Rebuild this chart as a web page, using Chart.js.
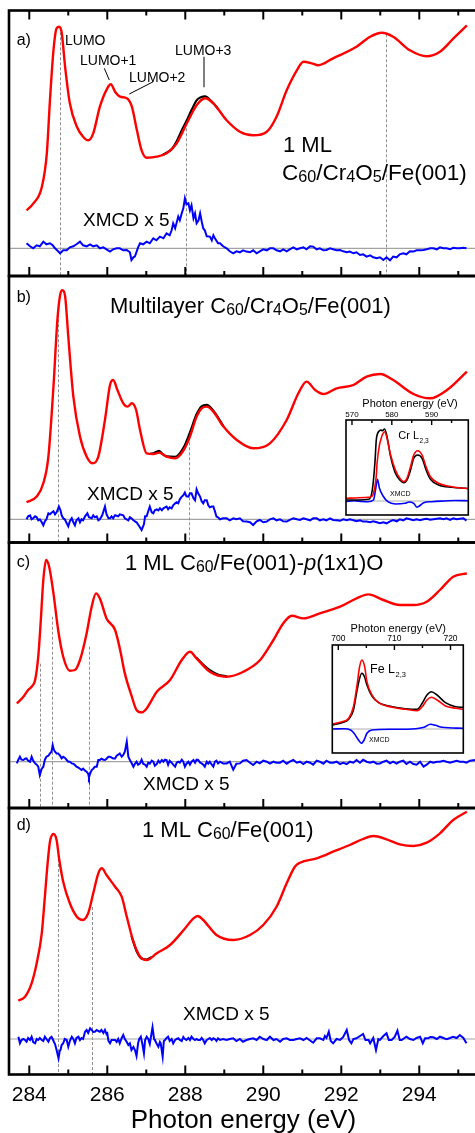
<!DOCTYPE html>
<html><head><meta charset="utf-8">
<script src="https://cdn.jsdelivr.net/npm/chart.js@4.4.1/dist/chart.umd.min.js"></script>
<style>
html,body{margin:0;padding:0;background:#fff;overflow:hidden;width:475px;height:1133px;position:relative;}
canvas{position:absolute;}
</style></head><body>
<canvas id="pa" width="490" height="282" style="left:0;top:0"></canvas>
<canvas id="pb" width="490" height="280" style="left:0;top:270px"></canvas>
<canvas id="pc" width="490" height="280" style="left:0;top:536px"></canvas>
<canvas id="pd" width="490" height="360" style="left:0;top:802px"></canvas>
<canvas id="icr" width="135" height="130" style="left:340px;top:390px"></canvas>
<canvas id="ife" width="150" height="145" style="left:325px;top:615px"></canvas>
<script>
// ---------------- DATA ----------------
const energyTickValues = [284,285,286,287,288,289,290,291,292,293,294,295];
const energyLabelValues = [284,286,288,290,292,294];

// Panel a) 1 ML C60/Cr4O5/Fe(001)
const aRedE = [283.93,284.10,284.32,284.45,284.53,284.62,284.70,284.77,284.83,284.92,285.04,285.22,285.38,285.51,285.64,285.81,286.00,286.09,286.20,286.33,286.50,286.63,286.76,286.88,287.01,287.27,287.52,287.78,288.04,288.29,288.51,288.72,289.06,289.40,289.74,290.09,290.34,290.60,290.86,291.03,291.24,291.41,291.79,292.39,292.74,293.04,293.33,293.76,294.19,294.53,294.87,295.22];
const aRedV = [38,44.7,61,95,148,198,220,221.6,216,181,145,121.6,111.6,108,115,141.6,160,164,156.6,151.6,150,141.6,118,98,90.6,91.6,95,105,125,143,150,145,128,116.6,113,116.6,131.6,158,178,186.6,185,183,190,201.6,211.6,215.6,211.6,198,192,196.6,209.6,223];
const aBlackE = [287.40,287.52,287.65,287.78,287.91,288.04,288.17,288.29,288.40,288.51,288.62,288.72,288.85];
const aBlackV = [93,95.5,99,107,118,128,139,148,151,152,149,145,139];
const aXmcdE = [283.93,284.02,284.10,284.19,284.27,284.36,284.44,284.53,284.60,284.66,
 284.74,284.79,284.87,284.96,285.04,285.13,285.21,285.30,285.38,285.47,
 285.56,285.64,285.73,285.81,285.90,285.98,286.07,286.15,286.24,286.32,
 286.41,286.50,286.58,286.62,286.67,286.71,286.79,286.84,286.92,287.01,
 287.09,287.18,287.26,287.35,287.44,287.52,287.60,287.65,287.69,287.74,
 287.82,287.86,287.91,287.95,287.99,288.03,288.08,288.12,288.16,288.21,
 288.25,288.29,288.34,288.38,288.42,288.46,288.50,288.55,288.63,288.68,
 288.72,288.76,288.84,288.89,288.97,289.06,289.14,289.23,289.31,289.40,
 289.48,289.57,289.66,289.74,289.83,289.91,290.00,290.09,290.17,290.26,
 290.34,290.43,290.51,290.60,290.68,290.77,290.86,290.94,291.03,291.11,
 291.20,291.28,291.37,291.45,291.54,291.62,291.71,291.79,291.88,291.97,
 292.05,292.14,292.22,292.31,292.39,292.48,292.56,292.65,292.74,292.82,
 292.91,292.99,293.08,293.16,293.25,293.33,293.42,293.50,293.59,293.67,
 293.76,293.85,293.93,294.02,294.11,294.19,294.28,294.36,294.45,294.53,
 294.62,294.70,294.79,294.87,294.96,295.04,295.13,295.21];
const aXmcdV = [5,2,0,3,2,6.7,4,5,3,0,
 -3,-5,-2,-2,1,2,4,6.7,3,2,
 4,2,3,0,1,-1,-3.3,-1,0,0,
 -2,-1.7,-4,-11.7,-9,-8,1,5,4,6.7,
 5,10,8,11.7,10,15,13,18,25,20,
 31.7,28,35,40,50,44,45,38,43,30,
 35,25,28,35,27,20,18,12,11.7,8,
 13,10,5,5,2,0,-3,-5,-3,-4,
 -2,-3.3,-4,-2,-5,-3,-1,-2,0,0,
 -2,-3,-1,-3,-1,1,-1,0,1,-1,
 2,1.7,-1,0,-2,-1.7,0,-1,-2,-1.7,
 -3,-4,-3.3,-5,-4,-6.7,-6,-8.3,-7,-9,
 -10,-9,-11.7,-9,-12,-8.3,-9,-6,-5,-6,
 -3,-3.3,-2,-2,-1.7,-1,0,0,-1,1,
 0,0,-1,0.5,0,0,0.5,0];
const aMarkE = [284.80,288.01,293.14];
const aMarkTop = [216,120,214];

// Panel b) Multilayer C60/Cr4O5/Fe(001)
const bRedE = [283.93,284.19,284.36,284.49,284.62,284.72,284.79,284.85,284.92,285.00,285.13,285.30,285.47,285.62,285.77,285.94,286.07,286.15,286.26,286.41,286.52,286.63,286.74,286.84,287.01,287.18,287.33,287.52,287.74,287.96,288.12,288.29,288.42,288.55,288.72,288.98,289.32,289.74,290.17,290.60,290.90,291.11,291.33,291.54,291.88,292.31,292.65,293.00,293.33,293.85,294.28,294.71,295.22];
const bRedV = [17,22.7,36,62.7,132.7,199,224,229,222.7,182.7,122.7,82.7,62.7,56,62.7,99.3,134.3,139.3,129.3,116,112.7,116,109.3,89.3,66,65.3,66.7,62.7,61,69.3,82.7,102.7,111,112.7,107.7,92.7,79.3,71,76,99.3,126,137.7,129.3,125.3,131,134.3,142.7,145.3,139.3,125.3,121,129.3,147.7];
const bBlackE = [287.10,287.18,287.26,287.33,287.40,287.52,287.74,287.96,288.12,288.29,288.42,288.55,288.72,288.98];
const bBlackV = [65.5,66,67.5,68.5,66,63,62.5,72,87,105,113,114.5,108.5,93];
const bXmcdE = [283.93,283.97,284.02,284.06,284.10,284.15,284.19,284.23,284.27,284.32,
 284.36,284.40,284.44,284.49,284.53,284.57,284.62,284.66,284.70,284.76,
 284.80,284.83,284.87,284.91,284.96,285.00,285.04,285.09,285.13,285.17,
 285.21,285.26,285.30,285.34,285.38,285.43,285.49,285.53,285.60,285.64,
 285.68,285.73,285.77,285.81,285.87,285.94,285.98,286.03,286.07,286.11,
 286.15,286.20,286.28,286.32,286.41,286.45,286.54,286.58,286.62,286.67,
 286.71,286.75,286.82,286.88,286.94,286.97,287.01,287.05,287.09,287.14,
 287.18,287.22,287.27,287.31,287.35,287.40,287.44,287.48,287.52,287.56,
 287.60,287.65,287.69,287.74,287.78,287.82,287.86,287.91,287.95,287.99,
 288.03,288.08,288.12,288.16,288.21,288.25,288.29,288.33,288.38,288.42,
 288.46,288.50,288.55,288.59,288.63,288.68,288.72,288.76,288.80,288.84,
 288.89,288.97,289.06,289.14,289.23,289.31,289.40,289.48,289.57,289.66,
 289.74,289.83,289.91,290.00,290.09,290.17,290.26,290.34,290.43,290.51,
 290.60,290.68,290.77,290.86,290.94,291.03,291.11,291.20,291.28,291.37,
 291.45,291.54,291.62,291.71,291.79,291.88,291.97,292.05,292.14,292.22,
 292.31,292.39,292.48,292.56,292.65,292.74,292.82,292.91,292.99,293.08,
 293.16,293.25,293.33,293.42,293.50,293.59,293.67,293.76,293.85,293.93,
 294.02,294.11,294.19,294.28,294.36,294.45,294.53,294.62,294.70,294.79,
 294.87,294.96,295.04,295.13,295.21];
const bXmcdV = [0,3,4,0,1,3,2,-1,0,-3,
 -6,-2,0,6,5,6.5,8,5,7,12.7,
 9,4,1,0,-4,-7,-2,1,-3,-6,
 -1,1,-3,0,-1,3,6,2,1,4,
 2,3,-1,0,4,12.7,5,1,1,3,
 1,4,3,5,4,1,-1,2,1,-1,
 -2,-3,-7,-10.7,-5,3,3,8,12.7,7,
 6,9,10,9,11,9,11,12,12.7,10,
 12,11,14,16,17,16,20,22.7,24,26.7,
 23,22.7,26,26,21,19,30,26,22.7,18,
 16,19,19,14,12,12.7,12.7,8,2.7,2,
 0,1,1,-1,1,0,1,-2,-2.3,-3,
 -5.7,-2,-0.7,-3,-2.3,0,1,-1,0,-2,
 -2.3,-0.5,1,0,-0.7,1,0,-1,1,1,
 -1,0,-1,1,-0.7,-1,-1.5,0,-1,0,
 -1,-2,-1,-2.3,-2.3,-3,-2,-3,-4,-3,
 -4,-2,-0.7,-2,0,-1,1,0,-1,0,
 -1,0,0.5,-0.5,0,0.5,1,0,1,-0.5,
 1,0,0.5,1,-1.3];
const bMarkE = [284.74,288.10];
const bMarkTop = [205,82];

// Panel c) 1 ML C60/Fe(001)-p(1x1)O
const cRedE = [283.68,283.85,283.97,284.06,284.15,284.23,284.29,284.36,284.43,284.51,284.62,284.74,284.87,285.04,285.17,285.30,285.47,285.60,285.71,285.81,285.98,286.20,286.33,286.45,286.63,286.75,286.88,287.01,287.27,287.61,287.91,288.12,288.29,288.63,289.06,289.49,289.92,290.26,290.51,290.73,291.03,291.45,291.97,292.39,292.69,293.08,293.50,293.85,294.19,294.53,294.87,295.22];
const cRedV = [58.3,65,71.7,75,81.7,105,138,181.7,201.7,195,168.3,131.7,105,91,91.7,101.7,128.3,155,168.3,163.3,143.3,131.7,111.7,88.3,65,51.7,49.3,53.3,70,81.7,101.7,110,103.3,90,85,90,101.7,121.7,138.3,146,143.3,148.3,155,163.3,167.3,161.7,156.7,156.7,160,171.7,185,188.3];
const cBlackE = [288.29,288.45,288.63,288.85,289.06];
const cBlackV = [104,97.5,91.5,87,85.5];
const cXmcdE = [283.68,283.72,283.76,283.80,283.85,283.89,283.93,283.97,284.02,284.06,
 284.10,284.15,284.19,284.23,284.27,284.32,284.36,284.40,284.44,284.49,
 284.53,284.57,284.60,284.63,284.66,284.70,284.74,284.79,284.83,284.87,
 284.91,284.96,285.00,285.04,285.09,285.13,285.17,285.21,285.26,285.30,
 285.34,285.38,285.43,285.47,285.51,285.53,285.56,285.60,285.64,285.68,
 285.73,285.77,285.81,285.85,285.90,285.94,285.98,286.03,286.07,286.11,
 286.15,286.20,286.24,286.28,286.32,286.37,286.41,286.45,286.50,286.54,
 286.58,286.62,286.67,286.71,286.75,286.79,286.84,286.88,286.92,286.97,
 287.01,287.05,287.09,287.14,287.18,287.22,287.27,287.31,287.35,287.40,
 287.44,287.48,287.52,287.56,287.60,287.65,287.69,287.74,287.78,287.82,
 287.86,287.91,287.95,287.99,288.03,288.08,288.12,288.16,288.21,288.25,
 288.29,288.33,288.38,288.42,288.46,288.50,288.55,288.59,288.63,288.68,
 288.72,288.76,288.80,288.84,288.89,288.97,289.06,289.14,289.23,289.31,
 289.40,289.48,289.57,289.66,289.74,289.83,289.91,290.00,290.09,290.17,
 290.26,290.34,290.43,290.51,290.60,290.68,290.77,290.86,290.94,291.03,
 291.11,291.20,291.28,291.37,291.45,291.54,291.62,291.71,291.79,291.88,
 291.97,292.05,292.14,292.22,292.31,292.39,292.48,292.56,292.65,292.74,
 292.82,292.91,292.99,293.08,293.16,293.25,293.33,293.42,293.50,293.59,
 293.67,293.76,293.85,293.93,294.02,294.11,294.19,294.28,294.36,294.45,
 294.53,294.62,294.70,294.79,294.87,294.96,295.04,295.13,295.21,295.30,295.43];
const cXmcdV = [-1.7,2,5,2,1.7,3,3.3,1,0,5,
 1,-1.7,-3,-5,-13.3,-7,-5,2,5,6,
 8.3,10,16.7,12,10,8.3,8.3,6,3.3,5,
 4,1.7,0,0,-1.7,-2,-3.3,-5,-6,-7,
 -8.3,-7,-9,-10,-12,-15.7,-12,-8.3,-7,-5,
 -5,1.7,1.7,3,2,1.7,3,5,5,4,
 3.3,3.3,6,7,8.3,5,6.7,10,20,5,
 1.7,-1,-5,-2,0,-3,-1.7,2,-2,-3,
 -5,-1,-2,1,0,-4,-2.3,1,-1,1.7,
 0,2,1.7,-3,1,-1,-3,-5,-1,0,
 -1,2,0,-5,-2,0,-3,0,1.7,-1,
 2,1.7,-1,-1.7,-3,-5,0,-2,0,-3,
 -5,0,1,-1.7,0,-1.7,-1.7,0,-8,-2,
 -1.7,1,1.7,-1,-3.3,0,-1.7,1,0,-2,
 0,-1,-1,1,-2,0,1.7,-1,0,-2.3,
 0,-1,-3,1,0,-2,1,-1,-1,0,
 -2.3,-1,-2.3,0,-1,1.7,-1,2,0,-1,
 0,-2,-1.7,0,1,-1.7,0,-2,0,1,
 -2.3,0,-2.3,-3,0,-5,-3,0,-1,0,
 0,1,0,-1,0,1,0,0,-1,1,1.7];
const cMarkE = [284.27,284.59,285.53];
const cMarkTop = [98,145,115];

// Panel d) 1 ML C60/Fe(001)
const dRedE = [283.72,283.89,284.06,284.19,284.32,284.40,284.47,284.53,284.62,284.70,284.77,284.87,285.04,285.22,285.37,285.51,285.64,285.77,285.86,285.98,286.20,286.37,286.50,286.67,286.84,287.01,287.27,287.61,287.96,288.21,288.32,288.46,288.80,289.23,289.66,290.00,290.34,290.60,290.81,290.94,291.37,291.79,292.22,292.56,292.82,293.16,293.50,293.85,294.19,294.53,294.87,295.22];
const dRedV = [38.3,42.3,55.7,75.7,105.7,142.3,175.7,197.3,205,199,179,157.3,135.7,122.3,119,125.7,145.7,165.7,170.7,164,152.3,142.3,122.3,97.3,82.3,79,85.7,94,109,120.7,123,119,104,99,104,114,132.3,155.7,172.3,176.3,180.7,187.3,194,200,203,199.7,194.7,193,196.3,205.7,219,227.3];
const dBlackE = [286.62,286.75,286.88,287.01,287.14];
const dBlackV = [103,88,80.5,79.5,82];
const dXmcdE = [283.72,283.76,283.80,283.85,283.89,283.93,283.97,284.02,284.06,284.10,
 284.15,284.19,284.23,284.27,284.32,284.36,284.40,284.44,284.49,284.53,
 284.57,284.60,284.63,284.66,284.70,284.75,284.78,284.80,284.83,284.87,
 284.91,284.96,285.00,285.04,285.09,285.13,285.17,285.21,285.26,285.30,
 285.34,285.38,285.43,285.47,285.51,285.56,285.60,285.64,285.68,285.73,
 285.77,285.81,285.85,285.90,285.94,285.98,286.00,286.03,286.07,286.11,
 286.15,286.20,286.24,286.28,286.32,286.37,286.41,286.45,286.50,286.54,
 286.58,286.62,286.67,286.71,286.75,286.79,286.82,286.86,286.90,286.94,
 286.97,287.01,287.05,287.09,287.14,287.16,287.20,287.22,287.27,287.31,
 287.35,287.37,287.42,287.45,287.48,287.52,287.56,287.60,287.65,287.69,
 287.74,287.78,287.82,287.86,287.91,287.95,287.99,288.03,288.08,288.12,
 288.16,288.21,288.25,288.29,288.33,288.38,288.42,288.46,288.50,288.55,
 288.59,288.63,288.68,288.72,288.76,288.80,288.84,288.89,288.97,289.06,
 289.14,289.23,289.31,289.40,289.48,289.57,289.66,289.74,289.83,289.91,
 290.00,290.09,290.17,290.26,290.34,290.43,290.51,290.60,290.68,290.77,
 290.86,290.94,291.03,291.11,291.20,291.28,291.37,291.45,291.54,291.58,
 291.62,291.68,291.73,291.79,291.88,291.97,292.05,292.14,292.20,292.26,
 292.31,292.39,292.48,292.56,292.62,292.70,292.74,292.82,292.89,292.95,
 292.99,293.08,293.16,293.22,293.29,293.37,293.44,293.50,293.55,293.62,
 293.67,293.76,293.85,293.93,294.02,294.09,294.15,294.23,294.28,294.36,
 294.45,294.53,294.62,294.70,294.79,294.87,294.96,295.04,295.13,295.21];
const dXmcdV = [2.3,-4.3,-1,0,-1,-2.7,1,-1,2.3,-3,
 -4.3,0,-1,1,-1,-2,2.3,0,-2.7,1,
 2.3,0,-2.7,-5,-11,-19.3,-12,-11,-6,-4.3,
 0,-1,-7.7,-2,2.3,0,-4.3,1,2.3,-1,
 1,0,7.3,9,6,10.7,9,7,7.3,9,
 8,7.3,9,6,9,5,5.7,-2,-4.3,-1,
 -1,-1,-3,0,-4.3,1,4,0,-3,-6,
 -4.3,-11,-8,-11,-17,-4.3,0,2.3,-5,-14.3,
 -1,2.3,0,-5,7,11.7,0,-1,-5,-7.7,
 -3,-4.3,-17.7,-2,-1,1,2.3,-2,0,-4.3,
 -1,0,0.7,-1,-2,2,0,-1,1,-1,
 2.3,0,-1,0,-1,-1,1,-1,-4.3,-1,
 0,1,-1,0.7,0,-2,0.7,-1,0,-1,
 0,0.7,-2,0,-2.7,-1,0,0.7,-1,2.3,
 0,-1,2.3,-1,0,-2.7,0,0.7,-1,-1,
 0,0.7,-1,1,-1.5,-3.7,0.7,0.7,-1,3,
 1,7.3,-2,-4.3,0,-1,2,9,-1,-4.3,
 0,0.7,3,5,-1,-1,-4.3,1,-11,0,
 -1,3,5.7,-1,-1,2,8.3,-1,-1,1,
 2.3,0,-1,1,2.3,-4.3,0.7,0.7,2,1.7,
 0,2.3,1,-0.3,1,2.3,1,4,1,-4.3];
const dMarkE = [284.74,285.62];
const dMarkTop = [180,132];

// Inset: Cr L2,3
const crTickValues = [570,575,580,585,590,595];
const crLabelValues = [570,580,590];
const crE = [568.4,571.75,574.25,575.1,575.75,576.1,576.3,576.9,577.3,577.6,578.2,578.8,579.7,580.9,582.2,583.0,583.8,584.7,585.5,586.5,587.6,588.6,589.7,591.75,595.1,598.4,599.2];
const crRed = [2.7,3.3,3.7,5,14.3,25,37.7,56,62,66,69.3,62.7,46,31,21.7,19.3,22.7,34.3,46,50.3,46,34.3,24.3,17.7,14.3,12.7,12.5];
const crBlack = [1,1,1.7,11,37.7,61,66,70.3,71,70.3,72,64.3,44.3,27.7,20.3,18.3,21,31,42.7,46,42.7,31,21.7,16,13.7,12.7,12.5];
const crXmcdE = [568.4,570.5,572.5,574.0,575.4,575.9,576.4,576.9,577.8,579.0,580.9,583.3,584.3,585.5,586.3,586.9,588.0,590.0,593.3,596.0,599.2];
const crXmcdV = [-0.7,0.3,-0.5,-0.7,1,11,21.7,12.7,5,-0.7,-3,-2.3,-1,-2.3,-6.3,-5,-1.7,-0.7,0,0.5,0.3];

// Inset: Fe L2,3
const feTickValues = [700,705,710,715,720];
const feLabelValues = [700,710,720];
const feE = [698.98,700.65,701.85,702.7,703.3,703.8,704.2,704.7,705.1,706.0,707.2,709.6,712.0,714.05,714.95,715.8,716.6,717.6,719.1,720.9,722.28];
const feRed = [5,7.3,10.7,22.3,42.3,62.3,69,62.3,47.3,34,26.3,21.7,19.7,18.3,22.3,29,31.7,29,23,20.7,19.7];
const feBlack = [4,6.3,9.7,19,37.3,50.7,55.7,51.7,44,33,26.3,22.3,20.3,19.7,25.7,34,37.3,34,26.3,22.3,21.7];
const feXmcdE = [698.98,701.0,702.2,702.8,703.6,704.1,704.6,705.1,706.0,709.6,713.8,715.3,716.4,717.3,718.5,722.28];
const feXmcdV = [0,0.3,-1,-4.3,-11,-14.3,-11,-4.3,-1,-0.3,0.3,1.7,4.7,3.7,1.7,0.7];

// ---------------- RENDERING ----------------
const FONT = "'Liberation Sans', Arial, Helvetica, sans-serif";
const CANVAS_W = 490;
const X_MIN = 283.48, X_MAX = 295.5, PX_PER_EV = 39;

function pts(E, V) { return E.map((e, i) => ({x: e, y: V[i]})); }

function richWidth(ctx, size, runs) {
  let w = 0;
  for (const [t, k] of runs) {
    const fs = k === 's' ? size * 0.72 : size;
    ctx.font = (k === 'i' ? 'italic ' : '') + fs + 'px ' + FONT;
    w += ctx.measureText(t).width;
  }
  return w;
}
function drawRich(ctx, x, y, size, runs, align) {
  let cx = x;
  if (align === 'center') cx = x - richWidth(ctx, size, runs) / 2;
  ctx.textAlign = 'left';
  ctx.textBaseline = 'alphabetic';
  for (const [t, k] of runs) {
    let fs = size, dy = 0, st = '';
    if (k === 's') { fs = size * 0.72; dy = size * 0.1; }
    if (k === 'i') st = 'italic ';
    ctx.font = st + fs + 'px ' + FONT;
    ctx.fillText(t, cx, y + dy);
    cx += ctx.measureText(t).width;
  }
}

function mainPanel(c) {
  const el = document.getElementById(c.id);
  const datasets = [
    {data: pts(c.redE, c.redV), borderColor: '#ff0000', borderWidth: 2.4, pointRadius: 0, cubicInterpolationMode: 'monotone', order: 0},
    {data: pts(c.xE, c.xV), borderColor: '#0000ff', borderWidth: 2, pointRadius: 0, tension: 0, order: 2}
  ];
  if (c.blackE) datasets.push({data: pts(c.blackE, c.blackV), borderColor: '#000', borderWidth: 2.2, pointRadius: 0, cubicInterpolationMode: 'monotone', order: 1});
  const decor = {
    id: 'decor_' + c.id,
    beforeDatasetsDraw(chart) {
      const {ctx, chartArea: a, scales: {x, y}} = chart;
      ctx.save();
      const y0 = y.getPixelForValue(0);
      ctx.strokeStyle = '#a3a3a3'; ctx.lineWidth = 1.2;
      ctx.beginPath(); ctx.moveTo(a.left, y0); ctx.lineTo(a.right, y0); ctx.stroke();
      ctx.strokeStyle = '#8f8f8f'; ctx.lineWidth = 1; ctx.setLineDash([3, 2]);
      c.markE.forEach((e, i) => {
        const px = Math.round(x.getPixelForValue(e)) + 0.5;
        ctx.beginPath(); ctx.moveTo(px, y.getPixelForValue(c.markTop[i])); ctx.lineTo(px, a.bottom); ctx.stroke();
      });
      ctx.restore();
    },
    afterDraw(chart) {
      const {ctx, chartArea: a, scales: {x}} = chart;
      ctx.save();
      ctx.strokeStyle = '#000'; ctx.lineWidth = 2.6;
      ctx.strokeRect(a.left, a.top, a.right - a.left, a.bottom - a.top);
      ctx.lineWidth = 2;
      energyTickValues.forEach(v => {
        const px = x.getPixelForValue(v);
        const len = v % 2 === 0 ? 9 : 5;
        ctx.beginPath(); ctx.moveTo(px, a.bottom); ctx.lineTo(px, a.bottom - len); ctx.stroke();
        if (c.topTicks) { ctx.beginPath(); ctx.moveTo(px, a.top); ctx.lineTo(px, a.top + len); ctx.stroke(); }
      });
      ctx.lineWidth = 1;
      (c.leaders || []).forEach(([x1, y1, x2, y2]) => {
        ctx.beginPath(); ctx.moveTo(x1, y1 - c.top); ctx.lineTo(x2, y2 - c.top); ctx.stroke();
      });
      ctx.fillStyle = '#000';
      c.texts.forEach(t => drawRich(ctx, t.x, t.y - c.top, t.size, t.runs, t.align));
      ctx.restore();
    }
  };
  const xScale = c.axis ? {
    type: 'linear', min: X_MIN, max: X_MAX, position: 'bottom',
    afterBuildTicks: s => { s.ticks = energyLabelValues.map(v => ({value: v})); },
    grid: {display: false, drawTicks: false}, border: {display: false},
    ticks: {color: '#000', font: {family: FONT, size: 21, lineHeight: 1}, padding: 10, maxRotation: 0, autoSkip: false, callback: v => String(v)},
    title: {display: true, text: 'Photon energy (eV)', color: '#000', font: {family: FONT, size: 26, lineHeight: 1}, padding: {top: -7.5, bottom: 0}}
  } : {type: 'linear', min: X_MIN, max: X_MAX, display: false};
  new Chart(el, {
    type: 'line',
    data: {datasets},
    options: {
      responsive: false, animation: false, events: [],
      layout: {padding: {left: 9, right: CANVAS_W - 9 - PX_PER_EV * (X_MAX - X_MIN), top: c.padTop, bottom: c.padBottom}},
      plugins: {legend: {display: false}, tooltip: {enabled: false}},
      scales: {x: xScale, y: {type: 'linear', min: c.yMin, max: c.yMax, display: false}}
    },
    plugins: [decor]
  });
}

function insetChart(c) {
  const el = document.getElementById(c.id);
  const decor = {
    id: 'inset_' + c.id,
    beforeDraw(chart) {
      const {ctx, chartArea: a} = chart;
      ctx.save(); ctx.fillStyle = '#fff';
      ctx.fillRect(a.left, a.top, a.right - a.left, a.bottom - a.top);
      ctx.restore();
    },
    beforeDatasetsDraw(chart) {
      const {ctx, chartArea: a, scales: {y}} = chart;
      const y0 = y.getPixelForValue(0);
      ctx.save(); ctx.strokeStyle = '#b0b0b0'; ctx.lineWidth = 1;
      ctx.beginPath(); ctx.moveTo(a.left, y0); ctx.lineTo(a.right, y0); ctx.stroke();
      ctx.restore();
    },
    afterDraw(chart) {
      const {ctx, chartArea: a, scales: {x}} = chart;
      ctx.save();
      ctx.strokeStyle = '#000'; ctx.lineWidth = 1.6;
      ctx.strokeRect(a.left, a.top, a.right - a.left, a.bottom - a.top);
      ctx.lineWidth = 1.4;
      c.tickValues.forEach(v => {
        const px = x.getPixelForValue(v);
        const len = c.labelValues.includes(v) ? 5 : 3;
        ctx.beginPath(); ctx.moveTo(px, a.top); ctx.lineTo(px, a.top + len); ctx.stroke();
      });
      ctx.fillStyle = '#000';
      ctx.font = c.tickFont + 'px ' + FONT; ctx.textAlign = 'center'; ctx.textBaseline = 'alphabetic';
      c.labelValues.forEach(v => ctx.fillText(String(v), x.getPixelForValue(v), c.tickY - c.top));
      drawRich(ctx, c.titleX - c.left, c.titleY - c.top, 11, [['Photon energy (eV)', 'n']], 'center');
      c.texts.forEach(t => {
        let cx = t.x - c.left;
        ctx.font = t.size + 'px ' + FONT; ctx.textAlign = 'left';
        ctx.fillText(t.main, cx, t.y - c.top);
        if (t.sub) {
          cx += ctx.measureText(t.main).width + 0.5;
          ctx.font = (t.size * 0.6) + 'px ' + FONT;
          ctx.fillText(t.sub, cx, t.y - c.top + t.size * 0.3);
        }
      });
      ctx.restore();
    }
  };
  new Chart(el, {
    type: 'line',
    data: {datasets: [
      {data: pts(c.E, c.red), borderColor: '#ff0000', borderWidth: 1.6, pointRadius: 0, cubicInterpolationMode: 'monotone', order: 0},
      {data: pts(c.E, c.black), borderColor: '#000', borderWidth: 1.6, pointRadius: 0, cubicInterpolationMode: 'monotone', order: 1},
      {data: pts(c.xE, c.xV), borderColor: '#0000ff', borderWidth: 1.6, pointRadius: 0, cubicInterpolationMode: 'monotone', order: 2}
    ]},
    options: {
      responsive: false, animation: false, events: [],
      layout: {padding: c.pad},
      plugins: {legend: {display: false}, tooltip: {enabled: false}},
      scales: {
        x: {type: 'linear', min: c.xMin, max: c.xMax, display: false},
        y: {type: 'linear', min: c.yMin, max: c.yMax, display: false}
      }
    },
    plugins: [decor]
  });
}

const SUBST_CR = [['C','n'],['60','s'],['/Cr','n'],['4','s'],['O','n'],['5','s'],['/Fe(001)','n']];

mainPanel({
  id: 'pa', top: 0, padTop: 10.5, padBottom: 6, yMin: -27.7, yMax: 237.8, topTicks: true,
  redE: aRedE, redV: aRedV, blackE: aBlackE, blackV: aBlackV, xE: aXmcdE, xV: aXmcdV,
  markE: aMarkE, markTop: aMarkTop,
  leaders: [[104.3, 68.3, 109.3, 80], [129.3, 94, 153.3, 81.7], [204, 56.7, 204, 87.3]],
  texts: [
    {x: 16.7, y: 45, size: 16, runs: [['a)', 'n']]},
    {x: 65, y: 45, size: 14, runs: [['LUMO', 'n']]},
    {x: 80, y: 65, size: 14, runs: [['LUMO+1', 'n']]},
    {x: 129, y: 81.5, size: 14, runs: [['LUMO+2', 'n']]},
    {x: 175, y: 55, size: 14, runs: [['LUMO+3', 'n']]},
    {x: 283, y: 151.5, size: 22, runs: [['1 ML', 'n']]},
    {x: 282, y: 180, size: 22.5, runs: SUBST_CR},
    {x: 83, y: 225.5, size: 19, runs: [['XMCD x 5', 'n']]}
  ]
});
mainPanel({
  id: 'pb', top: 270, padTop: 6, padBottom: 7.5, yMin: -23.2, yMax: 243.3,
  redE: bRedE, redV: bRedV, blackE: bBlackE, blackV: bBlackV, xE: bXmcdE, xV: bXmcdV,
  markE: bMarkE, markTop: bMarkTop,
  texts: [
    {x: 16.7, y: 302, size: 16, runs: [['b)', 'n']]},
    {x: 110, y: 312.5, size: 22, runs: [['Multilayer ', 'n']].concat(SUBST_CR)},
    {x: 87, y: 500, size: 19, runs: [['XMCD x 5', 'n']]}
  ]
});
mainPanel({
  id: 'pc', top: 536, padTop: 6.5, padBottom: 8, yMin: -46.3, yMax: 219.2,
  redE: cRedE, redV: cRedV, blackE: cBlackE, blackV: cBlackV, xE: cXmcdE, xV: cXmcdV,
  markE: cMarkE, markTop: cMarkTop,
  texts: [
    {x: 16.7, y: 567, size: 16, runs: [['c)', 'n']]},
    {x: 125, y: 570, size: 22, runs: [['1 ML C', 'n'], ['60', 's'], ['/Fe(001)-', 'n'], ['p', 'i'], ['(1x1)O', 'n']]},
    {x: 143, y: 790, size: 19, runs: [['XMCD x 5', 'n']]}
  ]
});
mainPanel({
  id: 'pd', top: 802, padTop: 6, padBottom: 28, yMin: -35.5, yMax: 231, axis: true,
  redE: dRedE, redV: dRedV, blackE: dBlackE, blackV: dBlackV, xE: dXmcdE, xV: dXmcdV,
  markE: dMarkE, markTop: dMarkTop,
  texts: [
    {x: 16.7, y: 830, size: 16, runs: [['d)', 'n']]},
    {x: 142, y: 836.5, size: 22, runs: [['1 ML C', 'n'], ['60', 's'], ['/Fe(001)', 'n']]},
    {x: 183, y: 1019.5, size: 19, runs: [['XMCD x 5', 'n']]}
  ]
});

insetChart({
  id: 'icr', left: 340, top: 390, pad: {left: 6, right: 6.7, top: 30, bottom: 5},
  xMin: 568.5, xMax: 599.2, yMin: -14, yMax: 81,
  E: crE, red: crRed, black: crBlack, xE: crXmcdE, xV: crXmcdV,
  tickValues: crTickValues, labelValues: crLabelValues, tickFont: 8, tickY: 417,
  titleX: 410, titleY: 407,
  texts: [
    {x: 398.3, y: 439.3, size: 11, main: 'Cr L', sub: '2,3'},
    {x: 390, y: 496, size: 7, main: 'XMCD'}
  ]
});
insetChart({
  id: 'ife', left: 325, top: 615, pad: {left: 7.3, right: 11.7, top: 30, bottom: 7},
  xMin: 698.93, xMax: 722.28, yMin: -24, yMax: 84,
  E: feE, red: feRed, black: feBlack, xE: feXmcdE, xV: feXmcdV,
  tickValues: feTickValues, labelValues: feLabelValues, tickFont: 8.5, tickY: 641,
  titleX: 398.3, titleY: 631.7,
  texts: [
    {x: 370, y: 673.3, size: 12.5, main: 'Fe L', sub: '2,3'},
    {x: 369, y: 741.7, size: 7, main: 'XMCD'}
  ]
});
</script>
</body></html>
